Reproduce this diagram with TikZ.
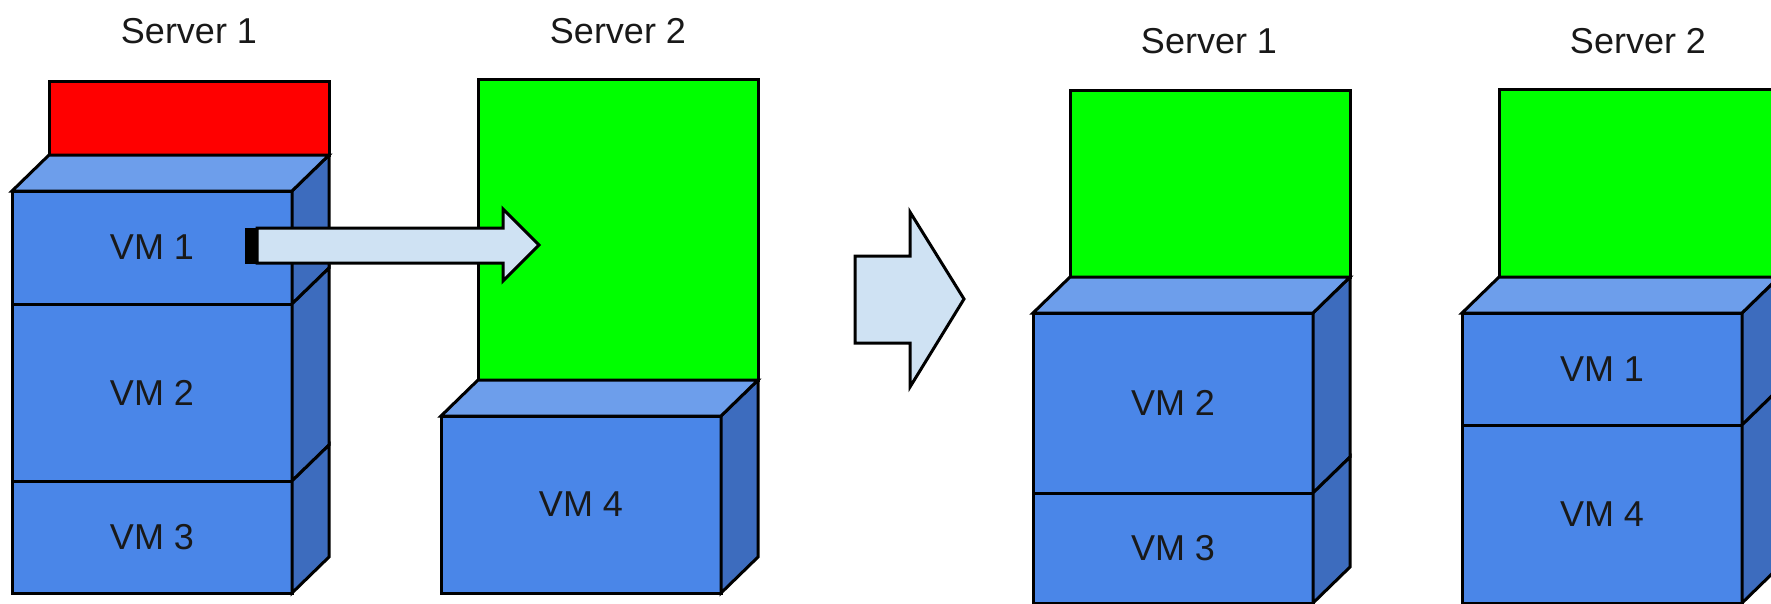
\documentclass[tikz,border=0pt]{standalone}
\usepackage{fontspec}
\setmainfont{Liberation Sans}

\definecolor{vmfront}{HTML}{4A86E8}
\definecolor{vmtop}{HTML}{6D9EEB}
\definecolor{vmside}{HTML}{3D6CBE}
\definecolor{freegreen}{HTML}{00FF00}
\definecolor{usedred}{HTML}{FF0000}
\definecolor{movefill}{HTML}{CFE2F3}

% front face of one VM block plus its right-hand side face
\newcommand\vmblock[6]{% name, x1, y1, x2, y2, label
  \node[vmface, minimum width={#4-#2}, minimum height={#5-#3}]
    (#1) at ({(#2+#4)/2},{(#3+#5)/2}) {#6};
  \draw[vmsideface] (#1.north east) -- ([shift={(37,-36)}]#1.north east)
    -- ([shift={(37,-36)}]#1.south east) -- (#1.south east) -- cycle;
}
% lid of the topmost VM block of a stack
\newcommand\vmlid[1]{%
  \draw[vmtopface] (#1.north west) -- ([shift={(37,-36)}]#1.north west)
    -- ([shift={(37,-36)}]#1.north east) -- (#1.north east) -- cycle;
}

\begin{document}
\begin{tikzpicture}[x=1pt, y=-1pt,
  outline/.style={draw=black, line width=3pt},
  vmface/.style={outline, fill=vmfront, rectangle, inner sep=0pt, outer sep=0pt,
    text=black!90, font=\fontsize{36}{43}\selectfont},
  vmtopface/.style={outline, fill=vmtop},
  vmsideface/.style={outline, fill=vmside},
  hostbox/.style={outline, rectangle, inner sep=0pt, outer sep=0pt},
  serverlabel/.style={anchor=base, inner sep=0pt, text=black!90,
    font=\fontsize{36}{43}\selectfont},
  movearrow/.style={outline, fill=movefill}]

\useasboundingbox (0,0) rectangle (1771,603);
\clip (0,0) rectangle (1771,603);

% ---------------- before migration ----------------
% Server 1
\node[serverlabel] (s1a) at (189,43) {Server 1};
\node[hostbox, fill=usedred, minimum width=280, minimum height=74] (h1a) at (189,118) {};
\vmblock{a1}{12}{191}{292}{304}{VM 1}
\vmblock{a2}{12}{304}{292}{481}{VM 2}
\vmblock{a3}{12}{481}{292}{593}{VM 3}
\vmlid{a1}

% Server 2
\node[serverlabel] (s2a) at (618,43) {Server 2};
\node[hostbox, fill=freegreen, minimum width=280, minimum height=301] (h2a) at (618,229.5) {};
\vmblock{a4}{441}{416}{721}{593}{VM 4}
\vmlid{a4}

% VM 1 being moved to Server 2
\draw[movearrow] (257,228) -- (503,228) -- (503,209) -- (539,245)
  -- (503,281) -- (503,263) -- (257,263) -- cycle;
\filldraw[black, line width=1pt] (245,228) rectangle (257,263);

% ---------------- transition ----------------
\draw[movearrow] (855,256) -- (910,256) -- (910,212) -- (964,299)
  -- (910,387) -- (910,343) -- (855,343) -- cycle;

% ---------------- after migration ----------------
% Server 1
\node[serverlabel] (s1b) at (1209,53) {Server 1};
\node[hostbox, fill=freegreen, minimum width=280, minimum height=187] (h1b) at (1210,183.5) {};
\vmblock{b2}{1033}{313}{1313}{493}{VM 2}
\vmblock{b3}{1033}{493}{1313}{603}{VM 3}
\vmlid{b2}

% Server 2
\node[serverlabel] (s2b) at (1638,53) {Server 2};
\node[hostbox, fill=freegreen, minimum width=280, minimum height=188] (h2b) at (1639,183) {};
\vmblock{b1}{1462}{313}{1742}{425}{VM 1}
\vmblock{b4}{1462}{425}{1742}{603}{VM 4}
\vmlid{b1}

\end{tikzpicture}
\end{document}
